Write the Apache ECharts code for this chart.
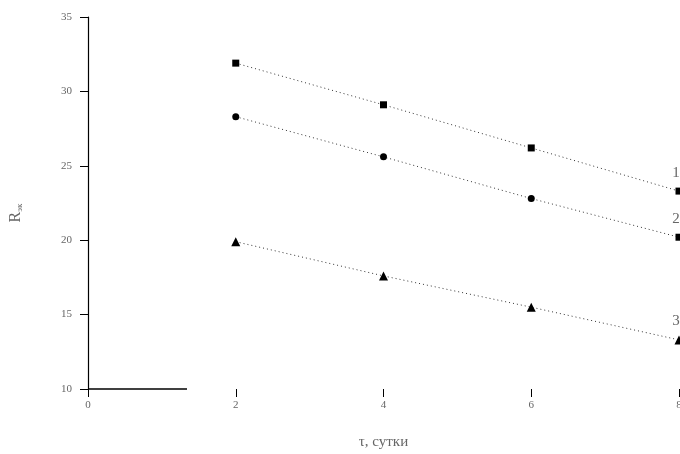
<!DOCTYPE html>
<html>
<head>
<meta charset="utf-8">
<script src="https://cdn.jsdelivr.net/npm/echarts@6/dist/echarts.min.js"></script>
<style>
  html, body { margin: 0; padding: 0; background: #fff; }
  #chart { width: 680px; height: 454px; }
</style>
</head>
<body>
<div id="chart"></div>
<script>
// data
const days = [2, 4, 6, 8];
const curve1 = [31.9, 29.1, 26.2, 23.3];
const curve2 = [28.3, 25.6, 22.8, 20.2];
const curve3 = [19.9, 17.6, 15.5, 13.3];
const curveNames = ["1", "2", "3"];
// short piece of bottom axis line drawn in the original (x from..to at y=10)
const axisStub = [0, 1.34];

const serif = "Liberation Serif";
const ink = "#000";
const grey = "#666";

function pairs(ys) {
  return ys.map((y, i) => [days[i], y]);
}

// series 2 has a square on its last point
function withLastSymbol(data, symbol) {
  const out = data.slice();
  const last = out.length - 1;
  out[last] = { value: out[last], symbol: symbol };
  return out;
}

function lastLabel(data, name) {
  const out = data.slice();
  const last = out.length - 1;
  const item = typeof out[last] === "object" && !Array.isArray(out[last]) ? out[last] : { value: out[last] };
  item.label = {
    show: true,
    position: "top",
    offset: [-3, -2],
    formatter: name,
    fontFamily: serif,
    fontSize: 15,
    color: grey,
  };
  out[last] = item;
  return out;
}

const lineStyle = { color: "#333", width: 1, type: [1, 3] };

const chart = echarts.init(document.getElementById("chart"));
chart.setOption({
  animation: false,
  grid: { left: 88, right: 1, top: 17, bottom: 65, outerBoundsMode: "none", containLabel: false },
  xAxis: {
    type: "value",
    min: 0,
    max: 8,
    interval: 2,
    name: "τ, сутки",
    nameLocation: "middle",
    nameGap: 46,
    nameTextStyle: { fontFamily: serif, fontSize: 15, color: grey },
    axisLine: { show: false },
    axisTick: { show: true, length: 8, lineStyle: { color: ink, width: 1 } },
    axisLabel: { fontFamily: serif, fontSize: 11, color: grey, margin: 11 },
    splitLine: { show: false },
  },
  yAxis: {
    type: "value",
    min: 10,
    max: 35,
    interval: 5,
    name: "R{sub|эк}",
    nameLocation: "middle",
    nameGap: 64,
    nameRotate: 90,
    nameTextStyle: {
      fontFamily: serif,
      fontSize: 16,
      color: grey,
      padding: [0, 20, 0, 0],
      rich: { sub: { fontFamily: serif, fontSize: 9, color: grey, verticalAlign: "bottom", padding: [8, 0, 0, 0] } },
    },
    axisLine: { show: true, lineStyle: { color: ink, width: 1.2 } },
    axisTick: { show: true, length: 8, lineStyle: { color: ink, width: 1 } },
    axisLabel: { fontFamily: serif, fontSize: 11, color: grey, margin: 16 },
    splitLine: { show: false },
  },
  series: [
    {
      name: curveNames[0],
      type: "line",
      data: lastLabel(pairs(curve1), curveNames[0]),
      symbol: "rect",
      symbolSize: 7,
      itemStyle: { color: ink },
      lineStyle: lineStyle,
      markLine: {
        silent: true,
        symbol: "none",
        label: { show: false },
        lineStyle: { color: ink, width: 1.5, type: "solid" },
        data: [[{ coord: [axisStub[0], 10] }, { coord: [axisStub[1], 10] }]],
      },
    },
    {
      name: curveNames[1],
      type: "line",
      data: lastLabel(withLastSymbol(pairs(curve2), "rect"), curveNames[1]),
      symbol: "circle",
      symbolSize: 7,
      itemStyle: { color: ink },
      lineStyle: lineStyle,
    },
    {
      name: curveNames[2],
      type: "line",
      data: lastLabel(pairs(curve3), curveNames[2]),
      symbol: "triangle",
      symbolSize: 9,
      itemStyle: { color: ink },
      lineStyle: lineStyle,
    },
  ],
});
</script>
</body>
</html>
